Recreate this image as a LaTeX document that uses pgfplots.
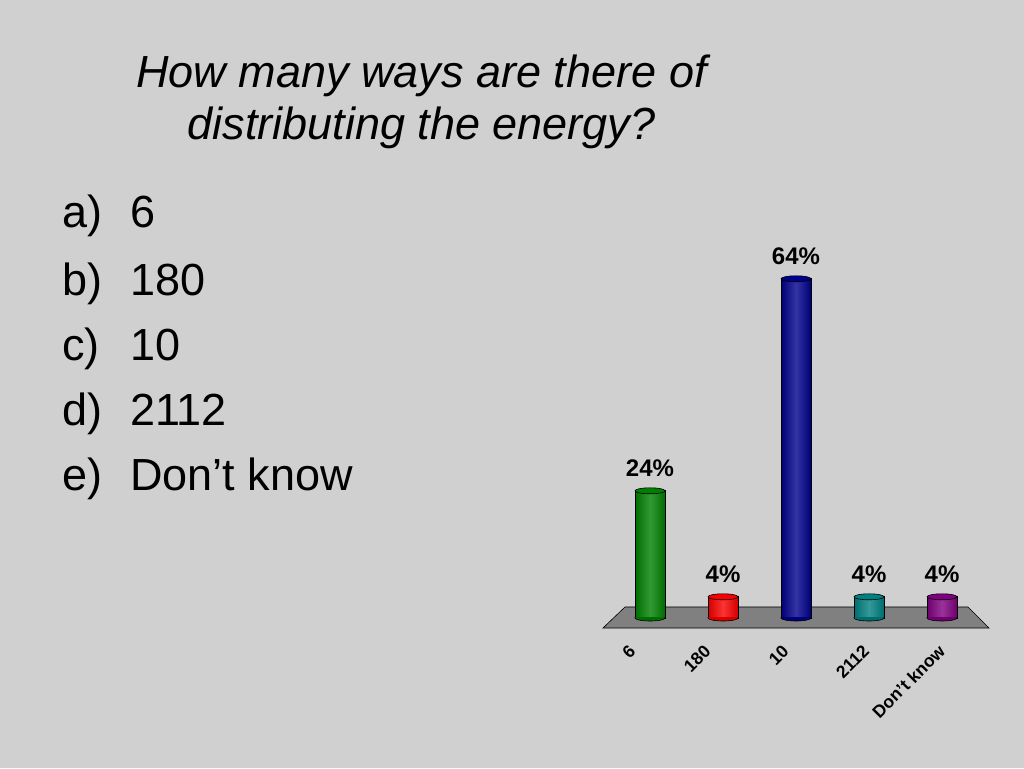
\documentclass[border=0pt]{standalone}
\usepackage{pgfplots}
\pgfplotsset{compat=1.18}
\usepackage{fontspec}
\setmainfont{Liberation Sans}
\definecolor{bg}{RGB}{208,208,208}
\definecolor{floorc}{RGB}{128,128,128}
\definecolor{cgreen}{RGB}{0,128,0}
\definecolor{cred}{RGB}{250,0,0}
\definecolor{cblue}{RGB}{0,0,140}
\definecolor{cteal}{RGB}{0,128,128}
\definecolor{cpurple}{RGB}{128,0,128}
\pgfdeclareplotmark{captop}{%
  \pgfpathellipse{\pgfpointorigin}{\pgfqpoint{15pt}{0pt}}{\pgfqpoint{0pt}{3pt}}%
  \pgfusepathqfillstroke}
\pgfdeclareplotmark{capbot}{%
  \pgfpathmoveto{\pgfqpoint{-15pt}{1pt}}%
  \pgfpathlineto{\pgfqpoint{-15pt}{0pt}}%
  \pgfpatharc{180}{360}{15pt and 3pt}%
  \pgfpathlineto{\pgfqpoint{15pt}{1pt}}%
  \pgfpathclose
  \pgfusepathqfill
  \pgfpathmoveto{\pgfqpoint{-15pt}{1pt}}%
  \pgfpathlineto{\pgfqpoint{-15pt}{0pt}}%
  \pgfpatharc{180}{360}{15pt and 3pt}%
  \pgfpathlineto{\pgfqpoint{15pt}{1pt}}%
  \pgfusepathqstroke}
\pgfplotsset{
  cyl/.style={ybar, bar width=30pt, bar shift=0pt, draw=black, line width=0.6pt,
    left color=#1!85!black, right color=#1!85!black, middle color=#1!80!white},
  cylbot/.style={only marks, mark=capbot, mark options={fill=#1!85!black, draw=black, line width=0.6pt}},
  cyltop/.style={only marks, mark=captop, mark options={fill=#1, draw=black, line width=0.6pt},
    point meta=y, nodes near coords={\pgfmathprintnumber{\pgfplotspointmeta}\%},
    nodes near coords style={anchor=south, inner sep=0pt, yshift=14pt, text=black,
      font=\bfseries\fontsize{24}{28}\selectfont}},
}
\begin{document}
\begin{tikzpicture}
\fill[bg] (0,0) rectangle (1024pt,768pt);
% title
\node[anchor=base, inner sep=0pt, font=\itshape\fontsize{45}{54}\selectfont] at (421.5pt,680pt) {How many ways are there of};
\node[anchor=base, inner sep=0pt, font=\itshape\fontsize{45}{54}\selectfont] at (421.5pt,628pt) {distributing the energy?};
% list
\foreach \lab/\txt/\yy in {a)/6/540, b)/180/472, c)/10/407, d)/2112/342, e)/Don’t know/277}{
  \node[anchor=base west, inner sep=0pt, font=\fontsize{45}{54}\selectfont] at (62pt,\yy pt) {\lab};
  \node[anchor=base west, inner sep=0pt, font=\fontsize{45}{54}\selectfont] at (130pt,\yy pt) {\txt};
}
\begin{axis}[
  at={(577pt,123.5pt)}, anchor=south west,
  scale only axis, width=438pt, height=397.5pt,
  xmin=-1, xmax=5, ymin=-5, ymax=70,
  clip=false,
  /pgf/number format/assume math mode=true,
  axis line style={draw=none}, major tick length=0pt,
  ytick=\empty,
  xtick={-0.29,0.74,1.81,2.91,3.95},
  xticklabels={6,180,10,2112,Don’t know},
  xticklabel style={rotate=45, anchor=east, inner sep=0pt, yshift=-5pt,
    font=\bfseries\fontsize{17.5}{20}\selectfont},
]
% floor
\addplot[fill=floorc, draw=black, line width=0.6pt] coordinates {(-0.644,-1.89) (4.644,-1.89) (4.356,2.08) (-0.342,2.08)} -- cycle;
% bars
\addplot[cyl=cgreen] coordinates {(0,24)};
\addplot[cylbot=cgreen] coordinates {(0,0)};
\addplot[cyltop=cgreen] coordinates {(0,24)};
\addplot[cyl=cred] coordinates {(1,4)};
\addplot[cylbot=cred] coordinates {(1,0)};
\addplot[cyltop=cred] coordinates {(1,4)};
\addplot[cyl=cblue] coordinates {(2,64)};
\addplot[cylbot=cblue] coordinates {(2,0)};
\addplot[cyltop=cblue] coordinates {(2,64)};
\addplot[cyl=cteal] coordinates {(3,4)};
\addplot[cylbot=cteal] coordinates {(3,0)};
\addplot[cyltop=cteal] coordinates {(3,4)};
\addplot[cyl=cpurple] coordinates {(4,4)};
\addplot[cylbot=cpurple] coordinates {(4,0)};
\addplot[cyltop=cpurple] coordinates {(4,4)};
\end{axis}
\pgfresetboundingbox
\path[use as bounding box] (0,0) rectangle (1024pt,768pt);
\end{tikzpicture}
\end{document}
